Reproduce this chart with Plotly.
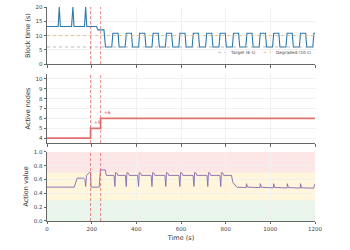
import plotly.graph_objects as go

# ---------------- data ----------------
bt_t = [0, 50, 55, 60, 110, 116, 121, 168, 173, 178, 222, 228, 255, 262,
        290, 295, 318, 323, 350, 355, 378, 383, 410, 415, 438, 443,
        470, 475, 498, 503, 530, 535, 558, 563, 590, 595, 618, 623,
        650, 655, 678, 683, 710, 715, 738, 743, 770, 775, 798, 803,
        830, 835, 858, 863, 890, 895, 918, 923, 950, 955, 978, 983,
        1010, 1015, 1038, 1043, 1070, 1075, 1098, 1103, 1130, 1135, 1158, 1163,
        1190, 1195, 1200]
bt_v = [13.2, 13.2, 20, 13.2, 13.2, 20, 13.2, 13.2, 20, 13.2, 13.2, 12, 12, 6,
        6, 10.8, 10.8, 6, 6, 10.8, 10.8, 6, 6, 10.8, 10.8, 6,
        6, 10.8, 10.8, 6, 6, 10.8, 10.8, 6, 6, 10.8, 10.8, 6,
        6, 10.8, 10.8, 6, 6, 10.8, 10.8, 6, 6, 10.8, 10.8, 6,
        6, 10.8, 10.8, 6, 6, 10.8, 10.8, 6, 6, 10.8, 10.8, 6,
        6, 10.8, 10.8, 6, 6, 10.8, 10.8, 6, 6, 10.8, 10.8, 6,
        6, 10.8, 10.8]

target_bt = 6
degraded_bt = 10
ref_names = ["Target (6 s)", "Degraded (10 s)"]
ref_colors = ["#aaaaaa", "#f0b860"]

nodes_t = [0, 195, 240, 1200]
nodes_v = [4, 5, 6, 6]
node_labels = ["+5", "+6"]

events = [195, 240]

av_t = [0, 122, 135, 163, 170, 173, 177, 185, 192, 195, 197, 234, 239, 260, 266,
        300, 304, 307, 314, 317,
        351, 355, 358, 365, 368,
        406, 410, 413, 420, 423,
        466, 470, 473, 480, 483,
        528, 532, 535, 542, 545,
        591, 595, 598, 605, 608,
        654, 658, 661, 668, 671,
        716, 720, 723, 730, 733,
        774, 778, 781, 788, 791,
        826, 832, 840, 850, 880,
        892, 893, 898, 954, 955, 960, 1014, 1015, 1020,
        1075, 1076, 1081, 1134, 1135, 1140, 1194, 1200]
av_v = [0.49, 0.49, 0.62, 0.62, 0.60, 0.50, 0.66, 0.69, 0.71, 0.70, 0.49, 0.49, 0.74, 0.74, 0.66,
        0.66, 0.50, 0.70, 0.69, 0.66,
        0.66, 0.50, 0.70, 0.69, 0.66,
        0.66, 0.50, 0.70, 0.69, 0.66,
        0.66, 0.50, 0.70, 0.69, 0.66,
        0.66, 0.50, 0.70, 0.69, 0.66,
        0.66, 0.50, 0.70, 0.69, 0.66,
        0.66, 0.50, 0.70, 0.69, 0.66,
        0.66, 0.50, 0.70, 0.69, 0.66,
        0.66, 0.50, 0.70, 0.69, 0.66,
        0.66, 0.56, 0.52, 0.49, 0.485,
        0.485, 0.54, 0.49, 0.483, 0.54, 0.488, 0.48, 0.54, 0.485,
        0.478, 0.54, 0.483, 0.476, 0.54, 0.48, 0.475, 0.54]

bands = [(0.0, 0.3, "rgba(76,175,80,0.12)"),
         (0.3, 0.7, "rgba(255,193,7,0.14)"),
         (0.7, 1.0, "rgba(229,57,53,0.12)")]

x_ticks = [0, 200, 400, 600, 800, 1000, 1200]

# ---------------- figure ----------------
fig = go.Figure()

fig.add_trace(go.Scatter(x=bt_t, y=bt_v, mode="lines", line=dict(color="#2b78ad", width=1.1),
                         showlegend=False, xaxis="x", yaxis="y"))
for val, name, col in zip([target_bt, degraded_bt], ref_names, ref_colors):
    fig.add_trace(go.Scatter(x=[0, 1200], y=[val] * 2, mode="lines", name=name,
                             line=dict(color=col, width=0.8, dash="dot"), showlegend=False,
                             xaxis="x", yaxis="y"))

fig.add_trace(go.Scatter(x=nodes_t, y=nodes_v, mode="lines", line=dict(color="#d9534f", width=1.7, shape="hv"),
                         opacity=0.8, showlegend=False, xaxis="x2", yaxis="y2"))

fig.add_trace(go.Scatter(x=av_t, y=av_v, mode="lines", line=dict(color="#8468b0", width=0.9),
                         showlegend=False, xaxis="x3", yaxis="y3"))

shapes = []
for lo, hi, col in bands:
    shapes.append(dict(type="rect", xref="x3", yref="y3", x0=0, x1=1200, y0=lo, y1=hi,
                       fillcolor=col, line_width=0, layer="below"))
for ax in ["", "2", "3"]:
    for ev in events:
        shapes.append(dict(type="line", xref="x" + ax, yref=("y" + ax + " domain"), x0=ev, x1=ev, y0=0, y1=1,
                           line=dict(color="#e05a5a", width=0.7, dash="3px,2px")))

annotations = []
for ev, val, lab in zip(events, nodes_v[1:3], node_labels):
    annotations.append(dict(x=ev, y=val, xref="x2", yref="y2", text=lab, showarrow=False,
                            xanchor="left", yanchor="bottom", xshift=1.5, yshift=1,
                            font=dict(size=4.5, color="#c9302c")))

# manual legend (short line samples, like the reference)
leg_y = 0.788
leg_items = [(0.638, 0.664, 0.676), (0.808, 0.834, 0.846)]
for (lx0, lx1, tx), name, col in zip(leg_items, ref_names, ref_colors):
    shapes.append(dict(type="line", xref="paper", yref="paper", x0=lx0, x1=lx1, y0=leg_y, y1=leg_y,
                       line=dict(color=col, width=0.8, dash="dot")))
    annotations.append(dict(x=tx, y=leg_y, xref="paper", yref="paper", text=name, showarrow=False,
                            xanchor="left", yanchor="middle", font=dict(size=4.3, color="#444")))

axis_common = dict(showline=True, linecolor="#666", linewidth=0.8, ticks="outside", ticklen=2.5,
                   tickcolor="#666", tickwidth=0.7, showgrid=True, gridcolor="#f0f0f0", gridwidth=0.6,
                   zeroline=False, tickfont=dict(size=5.5, color="#444"))

fig.update_layout(
    width=350, height=250,
    margin=dict(l=47, r=35, t=4, b=29),
    paper_bgcolor="white", plot_bgcolor="white",
    font=dict(family="DejaVu Sans", color="#333"),
    shapes=shapes, annotations=annotations,
    showlegend=False,
    xaxis=dict(domain=[0, 1], anchor="y", range=[0, 1200], tickvals=x_ticks, showticklabels=False, **axis_common),
    xaxis2=dict(domain=[0, 1], anchor="y2", range=[0, 1200], tickvals=x_ticks, showticklabels=False,
                matches="x", **axis_common),
    xaxis3=dict(domain=[0, 1], anchor="y3", range=[0, 1200], tickvals=x_ticks, matches="x",
                title=dict(text="Time (s)", font=dict(size=6.5, color="#333"), standoff=4), **axis_common),
    yaxis=dict(domain=[0.733, 1.0], range=[0, 20], tickvals=[0, 5, 10, 15, 20],
               title=dict(text="Block time (s)", font=dict(size=6.5, color="#333"), standoff=4), **axis_common),
    yaxis2=dict(domain=[0.364, 0.687], range=[3.5, 10.5], tickvals=[4, 5, 6, 7, 8, 9, 10],
                title=dict(text="Active nodes", font=dict(size=6.5, color="#333"), standoff=4), **axis_common),
    yaxis3=dict(domain=[0, 0.323], range=[0, 1.0], tickvals=[0, 0.2, 0.4, 0.6, 0.8, 1.0], tickformat=".1f",
                title=dict(text="Action value", font=dict(size=6.5, color="#333"), standoff=4), **axis_common),
)

fig.write_html("out.html")
